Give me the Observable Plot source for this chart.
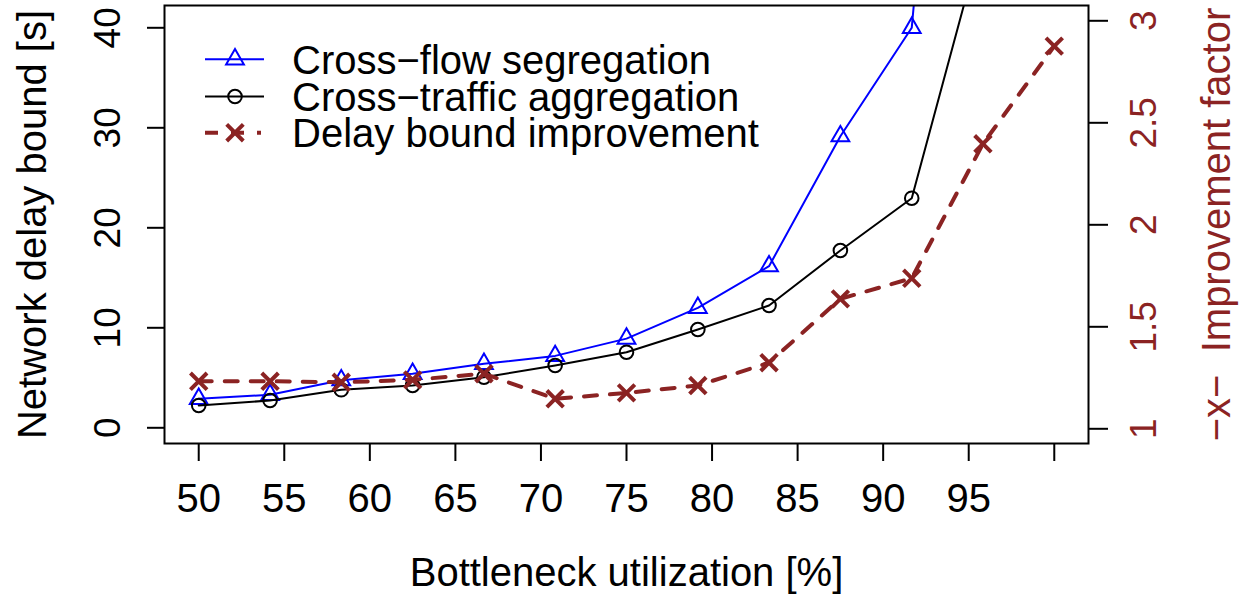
<!DOCTYPE html>
<html><head><meta charset="utf-8">
<script src="https://cdn.jsdelivr.net/npm/d3@7"></script>
<script src="https://cdn.jsdelivr.net/npm/@observablehq/plot@0.6"></script>
<style>
body{margin:0;background:#fff;}
#wrap{position:relative;width:1249px;height:596px;}
#legend{position:absolute;left:0;top:0;pointer-events:none;}
</style></head><body><div id="wrap"></div>
<script>
// ---- data ----
const util = [50, 54.17, 58.33, 62.5, 66.67, 70.83, 75, 79.17, 83.33, 87.5, 91.67, 95.83, 100];
const segregation = [2.9, 3.3, 4.76, 5.4, 6.4, 7.19, 8.92, 12.0, 16.16, 29.16, 40.0, 119];
const aggregation = [2.23, 2.73, 3.8, 4.23, 5.06, 6.23, 7.56, 9.83, 12.23, 17.73, 22.96, 49.3];
const improvement = [1.233, 1.233, 1.228, 1.24, 1.27, 1.147, 1.176, 1.212, 1.324, 1.637, 1.738, 2.397, 2.876];

const xTicks = [50, 55, 60, 65, 70, 75, 80, 85, 90, 95, 100];
const xTickLabels = ["50", "55", "60", "65", "70", "75", "80", "85", "90", "95", ""];
const yLeftTicks = [0, 10, 20, 30, 40];
const yLeftLabels = ["0", "10", "20", "30", "40"];
const yRightTicks = [1, 1.5, 2, 2.5, 3];
const yRightLabels = ["1", "1.5", "2", "2.5", "3"];

const seriesNames = ["Cross\u2212flow segregation", "Cross\u2212traffic aggregation", "Delay bound improvement"];
const xTitle = "Bottleneck utilization [%]";
const yLeftTitle = "Network delay bound [s]";
const yRightTitle = "\u2212x\u2212\u00a0\u00a0Improvement factor";

// ---- styles ----
const FONT = '"Liberation Sans", Arial, Helvetica, sans-serif';
const BLUE = "#0000FF", BLACK = "#000000", RED = "#8B2323";

// secondary axis (improvement factor) mapped onto the primary delay scale
const toLeft = v => ((v - 1) * 204 - 1) / 10;

const segData = segregation.map((v, i) => ({u: util[i], v}));
const aggData = aggregation.map((v, i) => ({u: util[i], v}));
const impData = improvement.map((v, i) => ({u: util[i], v: toLeft(v)}));
const rightTickData = yRightTicks.map((t, i) => ({pos: toLeft(t), label: yRightLabels[i]}));
const leftTickData = yLeftTicks.map((t, i) => ({pos: t, label: yLeftLabels[i]}));

const chart = Plot.plot({
  width: 1249, height: 596,
  marginLeft: 164, marginRight: 161, marginTop: 5, marginBottom: 153,
  style: {fontFamily: FONT, background: "white", color: "black"},
  x: {domain: [48, 102]},
  y: {domain: [-1.57, 42.23]},
  marks: [
    Plot.line(segData, {x: "u", y: "v", stroke: BLUE, strokeWidth: 2, clip: true}),
    Plot.dot(segData, {x: "u", y: "v", symbol: "triangle", stroke: BLUE, fill: "none", r: 6.6, strokeWidth: 2, clip: true}),
    Plot.line(aggData, {x: "u", y: "v", stroke: BLACK, strokeWidth: 2, clip: true}),
    Plot.dot(aggData, {x: "u", y: "v", symbol: "circle", stroke: BLACK, fill: "none", r: 6.8, strokeWidth: 2, clip: true}),
    Plot.line(impData, {x: "u", y: "v", stroke: RED, strokeWidth: 4, strokeDasharray: "13,13", clip: true}),
    Plot.dot(impData, {x: "u", y: "v", symbol: "times", stroke: RED, fill: "none", r: 7.6, strokeWidth: 4, clip: true}),
    Plot.frame({stroke: "black", strokeWidth: 2}),
    Plot.axisX({ticks: xTicks, tickSize: 18, tickPadding: 22, strokeWidth: 2, fontSize: 40, label: null,
      tickFormat: d => xTickLabels[xTicks.indexOf(d)]}),
    Plot.axisY({ticks: yLeftTicks, tickSize: 17, strokeWidth: 2, label: null, tickFormat: () => ""}),
    Plot.axisY({anchor: "right", ticks: rightTickData.map(d => d.pos), tickSize: 19, strokeWidth: 2, label: null, tickFormat: () => ""}),
    Plot.text(leftTickData, {y: "pos", text: "label", frameAnchor: "left", rotate: -90, textAnchor: "middle",
      lineAnchor: "bottom", dx: -45, fontSize: 37, fill: "black"}),
    Plot.text(rightTickData, {y: "pos", text: "label", frameAnchor: "right", rotate: -90, textAnchor: "middle",
      lineAnchor: "bottom", dx: 67, fontSize: 37, fill: RED}),
    Plot.text([xTitle], {frameAnchor: "bottom", lineAnchor: "bottom", dy: 142, fontSize: 40, fill: "black"}),
    Plot.text([yLeftTitle], {frameAnchor: "left", rotate: -90, textAnchor: "middle", lineAnchor: "bottom", dx: -119, fontSize: 40, fill: "black"}),
    Plot.text([yRightTitle], {frameAnchor: "right", rotate: -90, textAnchor: "middle", lineAnchor: "bottom", dx: 141, fontSize: 40, fill: RED})
  ]
});
document.getElementById("wrap").appendChild(chart);

// ---- legend (inside plot, top-left) ----
const legendRows = [
  {name: seriesNames[0], color: BLUE, sym: d3.symbolTriangle, r: 6.6, sw: 2, lw: 2, dash: null, x2: 264, y: 59.3},
  {name: seriesNames[1], color: BLACK, sym: d3.symbolCircle, r: 6.8, sw: 2, lw: 2, dash: null, x2: 264, y: 96.5},
  {name: seriesNames[2], color: RED, sym: d3.symbolTimes, r: 7.6, sw: 4, lw: 4, dash: "13,13", x2: 261, y: 132.7}
];
const lg = d3.select("#wrap").append("svg").attr("id", "legend").attr("width", 1249).attr("height", 596);
for (const row of legendRows) {
  const g = lg.append("g");
  g.append("line").attr("x1", 205).attr("x2", row.x2).attr("y1", row.y).attr("y2", row.y)
    .attr("stroke", row.color).attr("stroke-width", row.lw).attr("stroke-dasharray", row.dash);
  g.append("path").attr("d", d3.symbol(row.sym, Math.PI * row.r * row.r)())
    .attr("transform", `translate(235,${row.y})`).attr("fill", "none")
    .attr("stroke", row.color).attr("stroke-width", row.sw);
  g.append("text").attr("x", 292).attr("y", row.y + 14.5).attr("font-family", FONT)
    .attr("font-size", 40).attr("fill", "black").text(row.name);
}
</script></body></html>
